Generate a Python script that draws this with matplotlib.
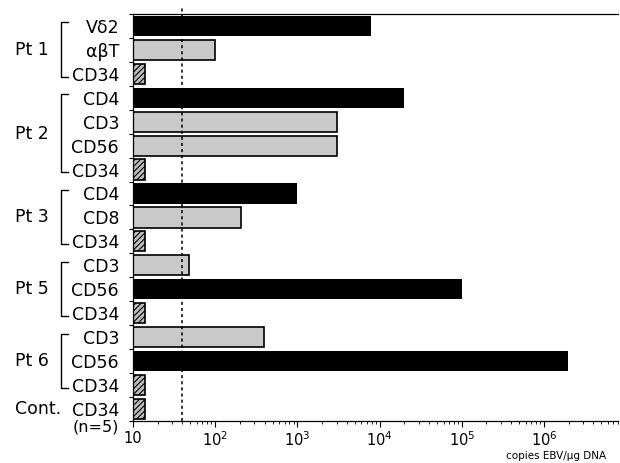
import numpy as np
import matplotlib
matplotlib.use('Agg')
import matplotlib.pyplot as plt
import matplotlib.transforms as mtransforms

plt.rcParams['font.family'] = ['DejaVu Sans']
plt.rcParams['hatch.linewidth'] = 0.8

# rows from top to bottom
cells = ['Vδ2', 'αβT', 'CD34',
         'CD4', 'CD3', 'CD56', 'CD34',
         'CD4', 'CD8', 'CD34',
         'CD3', 'CD56', 'CD34',
         'CD3', 'CD56', 'CD34',
         'CD34']
copies = [7800, 100, 14,
          20000, 3000, 3000, 14,
          1000, 205, 14,
          48, 100000, 14,
          390, 1950000, 14,
          14]
kind = ['black', 'gray', 'hatch',
        'black', 'gray', 'gray', 'hatch',
        'black', 'gray', 'hatch',
        'gray', 'black', 'hatch',
        'gray', 'black', 'hatch',
        'hatch']
groups = ['Pt 1', 'Pt 2', 'Pt 3', 'Pt 5', 'Pt 6', 'Cont.']
group_sizes = [3, 4, 3, 3, 3, 1]
cutoff = 39
x_min, x_max = 10, 8e6

fig = plt.figure(figsize=(6.2, 4.63), dpi=100)
ax = fig.add_axes([0.2145, 0.0907, 0.7825, 0.8793])
ax.set_xscale('log')

y = np.arange(len(cells))
styles = {
    'black': dict(color='black', edgecolor='black', linewidth=0),
    'gray': dict(color='#c9c9c9', edgecolor='black', linewidth=1.2),
    'hatch': dict(color='#bdbdbd', edgecolor='black', linewidth=1.2, hatch='//////'),
}
for yi, v, k in zip(y, copies, kind):
    ax.barh(yi, v - x_min, left=x_min, height=0.84, **styles[k])

ax.axvline(cutoff, ymin=0, ymax=1.02, color='black', lw=1.1,
           linestyle=(0, (2, 2)), clip_on=False)

ax.set_xlim(x_min, x_max)
ax.set_ylim(len(cells) - 0.5, -0.5)

# x axis
ax.set_xticks([10, 1e2, 1e3, 1e4, 1e5, 1e6])
ax.set_xticklabels(['10', '$10^2$', '$10^3$', '$10^4$', '$10^5$', '$10^6$'], fontsize=10.5)
ax.tick_params(axis='x', which='major', direction='out', length=4, width=0.8, pad=3)
ax.tick_params(axis='x', which='minor', direction='out', length=2.5, width=0.6)

# y axis: boundary ticks, labels at row centres
ax.set_yticks(np.arange(-0.5, len(cells)))
ax.set_yticklabels([])
ax.set_yticks(y, minor=True)
ax.set_yticklabels(cells, minor=True, fontsize=12.5)
ax.tick_params(axis='y', which='major', direction='out', length=3, width=0.8)
ax.tick_params(axis='y', which='minor', length=0, pad=10)

ax.spines['right'].set_visible(False)
for s in ['left', 'bottom', 'top']:
    ax.spines[s].set_linewidth(0.9)

# group labels and brackets
trans = mtransforms.blended_transform_factory(fig.transFigure, ax.transData)
start = 0
for name, n in zip(groups, group_sizes):
    first, last = start, start + n - 1
    mid = (first + last) / 2
    ax.text(0.024, mid, name, transform=trans, ha='left', va='center',
            fontsize=12.5, clip_on=False)
    if n > 1:
        top, bot = first - 0.15, last + 0.12
        ax.plot([0.110, 0.098, 0.098, 0.110], [top, top, bot, bot],
                transform=trans, color='black', lw=1.0, clip_on=False)
    start += n

ax.text(0.192, len(cells) - 0.25, '(n=5)', transform=trans, ha='right',
        va='center', fontsize=11.5, clip_on=False)

fig.text(0.978, 0.016, 'copies EBV/μg DNA', ha='right', va='center', fontsize=7.5)

fig.savefig('out.png', dpi=100)
